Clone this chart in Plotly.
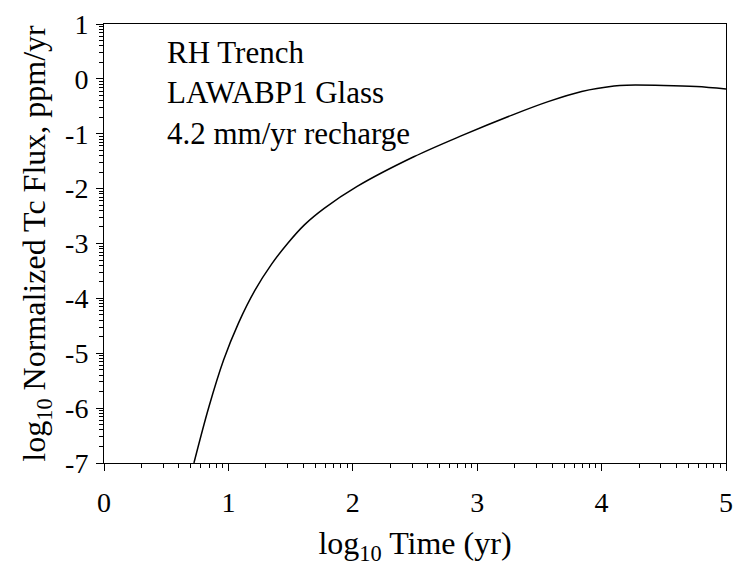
import numpy as np
import plotly.graph_objects as go

# log10 time (yr) and log10 normalized Tc flux (ppm/yr)
log_time = [0.723, 0.843, 0.962, 1.081, 1.214, 1.346, 1.479, 1.611, 1.770, 2.035,
            2.49, 2.88, 3.28, 3.57, 3.84, 4.10, 4.20, 4.50, 4.76, 5.0]
log_flux = [-7.0, -5.98, -5.12, -4.45, -3.85, -3.38, -2.99, -2.66, -2.36, -1.96,
            -1.42, -1.03, -0.66, -0.415, -0.23, -0.13, -0.115, -0.12, -0.14, -0.184]

x_ticks = [0, 1, 2, 3, 4, 5]
y_ticks = [1, 0, -1, -2, -3, -4, -5, -6, -7]
notes = ["RH Trench", "LAWABP1 Glass", "4.2 mm/yr recharge"]

FONT = "Liberation Serif, Times New Roman, serif"
TICK_SIZE = 28
TITLE_SIZE = 32
NOTE_SIZE = 31

# log-style minor ticks inside each unit interval
def log_minor(lo, hi):
    return [n + np.log10(k) for n in range(lo, hi) for k in range(2, 10)]

fig = go.Figure()
fig.add_trace(go.Scatter(
    x=log_time, y=log_flux, mode="lines",
    line=dict(color="black", width=1.5, shape="spline", smoothing=1.0),
    showlegend=False,
))

axis_common = dict(
    showgrid=False, zeroline=False, showline=True, linecolor="black",
    linewidth=1, mirror=True, ticks="outside", ticklen=7, tickwidth=1,
    tickcolor="black", tickfont=dict(family=FONT, size=TICK_SIZE, color="black"),
)

fig.update_xaxes(
    range=[0, 5], tickvals=x_ticks, ticktext=[str(v) for v in x_ticks],
    ticklabelstandoff=7,
    title=dict(text="log<sub>10</sub> Time (yr)",
               font=dict(family=FONT, size=TITLE_SIZE, color="black"), standoff=15),
    minor=dict(tickmode="array", tickvals=log_minor(0, 5), ticks="outside",
               ticklen=4, tickwidth=1, tickcolor="black"),
    **axis_common,
)
fig.update_yaxes(
    range=[-7, 1], tickvals=y_ticks, ticktext=[str(v) for v in y_ticks],
    ticklabelstandoff=2,
    title=dict(text="log<sub>10</sub> Normalized Tc Flux, ppm/yr",
               font=dict(family=FONT, size=TITLE_SIZE, color="black"), standoff=9),
    minor=dict(tickmode="array", tickvals=log_minor(-7, 1), ticks="outside",
               ticklen=4, tickwidth=1, tickcolor="black"),
    **axis_common,
)

fig.add_annotation(
    x=0.49, y=-0.26, xref="x", yref="y", xanchor="left", yanchor="middle",
    text="<br>".join(notes), align="left", showarrow=False,
    font=dict(family=FONT, size=NOTE_SIZE, color="black"),
)

fig.update_layout(
    width=741, height=571,
    margin=dict(l=104, r=8, t=24, b=108),
    paper_bgcolor="white", plot_bgcolor="white",
)

fig.write_html("out.html")
